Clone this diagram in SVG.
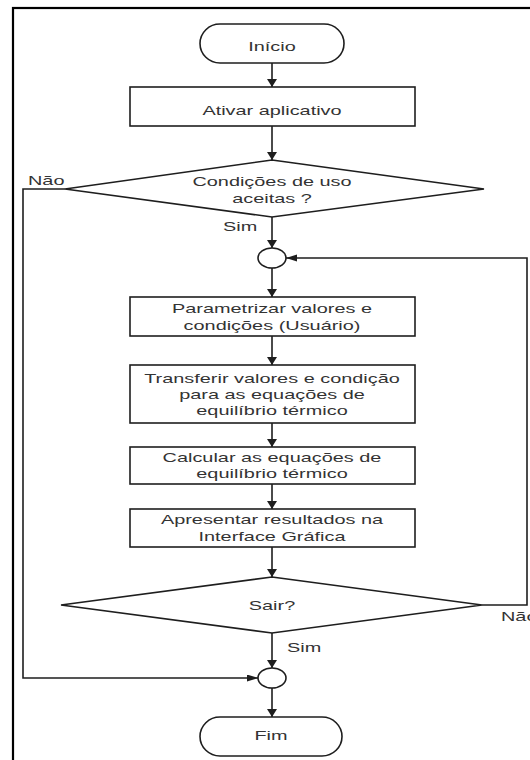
<svg xmlns="http://www.w3.org/2000/svg" width="530" height="760" viewBox="0 0 530 760">
<style>
.shape{fill:#fff;stroke:#1e1e1e;stroke-width:1.6}
.conn{fill:none;stroke:#1e1e1e;stroke-width:1.6}
.t{font-family:"Liberation Sans",Arial,sans-serif;font-size:13px;fill:#333;text-anchor:middle}
.l{font-family:"Liberation Sans",Arial,sans-serif;font-size:13px;fill:#333;text-anchor:start}
</style>
<defs>
<marker id="av" markerUnits="userSpaceOnUse" markerWidth="9" markerHeight="10" refX="8" refY="5" orient="auto"><path d="M0,0 L8,5 L0,10 z" fill="#1e1e1e"/></marker>
<marker id="ah" markerUnits="userSpaceOnUse" markerWidth="12" markerHeight="8" refX="11" refY="3.5" orient="auto"><path d="M0,0 L11,3.5 L0,7 z" fill="#1e1e1e"/></marker>
</defs>
<rect width="530" height="760" fill="#fff"/>
<rect x="13" y="8" width="530" height="800" fill="none" stroke="#000" stroke-width="2.2"/>

<g id="connectors">
<path class="conn" d="M272,63 V87" marker-end="url(#av)"/>
<path class="conn" d="M272,126 V160" marker-end="url(#av)"/>
<path class="conn" d="M272,217 V248" marker-end="url(#av)"/>
<path class="conn" d="M272,268 V297" marker-end="url(#av)"/>
<path class="conn" d="M272,336 V365" marker-end="url(#av)"/>
<path class="conn" d="M272,423 V447" marker-end="url(#av)"/>
<path class="conn" d="M272,484 V509" marker-end="url(#av)"/>
<path class="conn" d="M272,547 V577" marker-end="url(#av)"/>
<path class="conn" d="M272,633 V668" marker-end="url(#av)"/>
<path class="conn" d="M272,688 V717" marker-end="url(#av)"/>
<path class="conn" d="M482,605 H527 V258 H286" marker-end="url(#ah)"/>
<path class="conn" d="M65,189 H23 V678 H258" marker-end="url(#ah)"/>
<text class="l" transform="matrix(1.53 0 0 1 28 0)" x="0" y="185">Não</text>
<text class="l" transform="matrix(1.53 0 0 1 223 0)" x="0" y="231.5">Sim</text>
<text class="l" transform="matrix(1.53 0 0 1 287 0)" x="0" y="652.5">Sim</text>
<text class="l" transform="matrix(1.53 0 0 1 501 0)" x="0" y="621.5">Não</text>
</g>

<g id="inicio">
<rect class="shape" x="200" y="24" width="144" height="39" rx="20" ry="19.5"/>
<text class="t" transform="matrix(1.53 0 0 1 272 0)" x="0" y="51">Início</text>
</g>
<g id="ativar">
<rect class="shape" x="130" y="87" width="285" height="39"/>
<text class="t" transform="matrix(1.53 0 0 1 272 0)" x="0" y="115">Ativar aplicativo</text>
</g>
<g id="condicoes">
<polygon class="shape" points="272,160 484,189 272,217 65,189"/>
<text class="t" transform="matrix(1.53 0 0 1 272 0)" x="0" y="186.5">Condições de uso</text>
<text class="t" transform="matrix(1.53 0 0 1 272 0)" x="0" y="203.5">aceitas ?</text>
</g>
<g id="juncao1">
<ellipse class="shape" cx="272" cy="258" rx="14" ry="10"/>
</g>
<g id="parametrizar">
<rect class="shape" x="130" y="297" width="285" height="39"/>
<text class="t" transform="matrix(1.53 0 0 1 272 0)" x="0" y="313">Parametrizar valores e</text>
<text class="t" transform="matrix(1.53 0 0 1 272 0)" x="0" y="330">condições (Usuário)</text>
</g>
<g id="transferir">
<rect class="shape" x="130" y="365" width="285" height="58"/>
<text class="t" transform="matrix(1.53 0 0 1 272 0)" x="0" y="383">Transferir valores e condição</text>
<text class="t" transform="matrix(1.53 0 0 1 272 0)" x="0" y="399">para as equações de</text>
<text class="t" transform="matrix(1.53 0 0 1 272 0)" x="0" y="415">equilíbrio térmico</text>
</g>
<g id="calcular">
<rect class="shape" x="130" y="447" width="285" height="37"/>
<text class="t" transform="matrix(1.53 0 0 1 272 0)" x="0" y="462.5">Calcular as equações de</text>
<text class="t" transform="matrix(1.53 0 0 1 272 0)" x="0" y="478.5">equilíbrio térmico</text>
</g>
<g id="apresentar">
<rect class="shape" x="130" y="509" width="285" height="38"/>
<text class="t" transform="matrix(1.53 0 0 1 272 0)" x="0" y="524">Apresentar resultados na</text>
<text class="t" transform="matrix(1.53 0 0 1 272 0)" x="0" y="541.5">Interface Gráfica</text>
</g>
<g id="sair">
<polygon class="shape" points="272,577 482,605 272,633 61,605"/>
<text class="t" transform="matrix(1.53 0 0 1 272 0)" x="0" y="610">Sair?</text>
</g>
<g id="juncao2">
<ellipse class="shape" cx="272" cy="678" rx="14" ry="10"/>
</g>
<g id="fim">
<rect class="shape" x="200" y="717" width="142" height="39" rx="20" ry="19.5"/>
<text class="t" transform="matrix(1.53 0 0 1 271 0)" x="0" y="740">Fim</text>
</g>
</svg>
